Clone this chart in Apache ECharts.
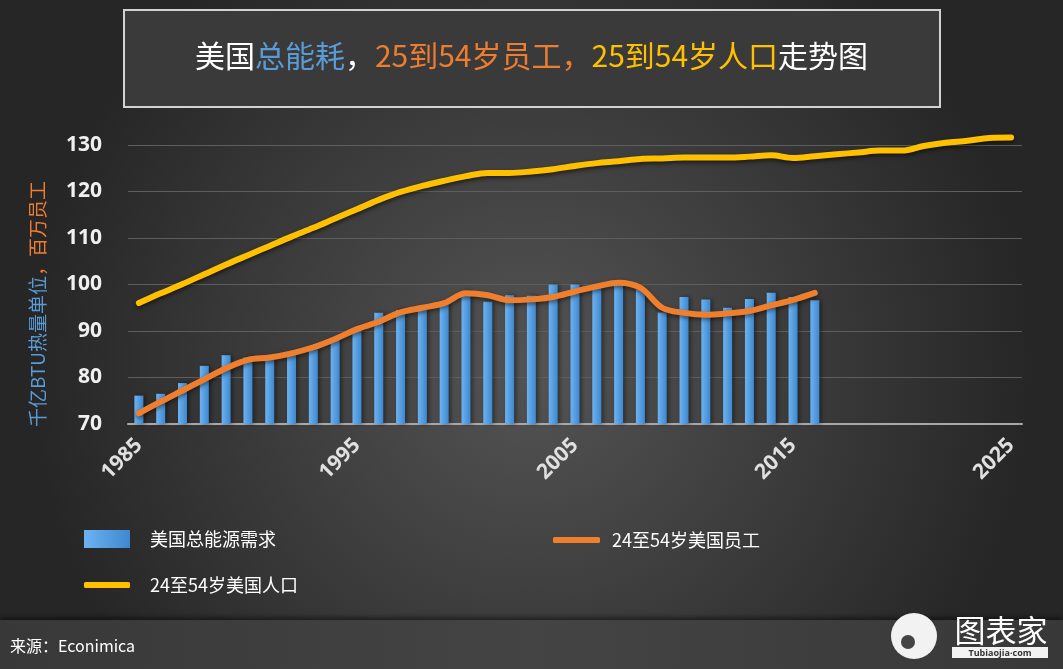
<!DOCTYPE html>
<html>
<head>
<meta charset="utf-8">
<script src="https://cdn.jsdelivr.net/npm/echarts@6/dist/echarts.min.js"></script>
<style>
html,body{margin:0;padding:0;background:#2b2b2b;}
#chart{width:1063px;height:669px;}
</style>
</head>
<body>
<div id="chart"></div>
<script>
// Years on the category axis
var years = [];
for (var y = 1985; y <= 2025; y++) years.push(String(y));

// 美国总能源需求 (1985-2016), 千亿BTU
var energyDemand = [76.1, 76.5, 78.8, 82.5, 84.8, 84.3, 83.8, 85.0, 86.1, 88.1,
  90.6, 93.9, 94.5, 94.7, 95.9, 98.5, 96.3, 97.7, 97.6, 100.0,
  100.0, 99.5, 100.3, 99.0, 94.0, 97.3, 96.8, 95.0, 96.9, 98.2,
  97.3, 96.6];

// 24至54岁美国员工 (1985-2016), 百万
var workers = [72.3, 74.8, 77.2, 79.6, 82.0, 83.8, 84.3, 85.2, 86.5, 88.3,
  90.4, 92.0, 94.0, 95.0, 96.0, 98.1, 97.7, 96.6, 96.8, 97.3,
  98.5, 99.6, 100.4, 99.3, 95.0, 93.9, 93.5, 93.8, 94.3, 95.5,
  96.7, 98.2];

// 24至54岁美国人口 (1985-2025), 百万
var population = [96.0, 98.1, 100.1, 102.2, 104.3, 106.3, 108.3, 110.3, 112.2, 114.2,
  116.2, 118.2, 119.9, 121.2, 122.3, 123.3, 124.0, 124.0, 124.3, 124.8,
  125.5, 126.1, 126.5, 127.0, 127.1, 127.3, 127.3, 127.3, 127.5, 127.8,
  127.2, 127.6, 128.0, 128.4, 128.8, 128.8, 129.8, 130.5, 130.9, 131.5,
  131.6];

var seriesNames = ['美国总能源需求', '24至54岁美国员工', '24至54岁美国人口'];
var yTicks = { min: 70, max: 130, interval: 10 };

var CJK = '"Noto Sans CJK SC", "Microsoft YaHei", sans-serif';
var NUM = '"Open Sans", "Noto Sans", sans-serif';

var chart = echarts.init(document.getElementById('chart'));
var titleStyle = function (c) { return { color: c, fontSize: 30, fontWeight: 'normal', fontFamily: CJK }; };
var option = {
  backgroundColor: {
    type: 'radial', x: 0.5, y: 0.55, r: 0.75,
    colorStops: [{ offset: 0, color: '#545454' }, { offset: 1, color: '#262626' }]
  },
  animation: false,
  title: {
    left: 'center', top: 36,
    text: '{w|美国}{b|总能耗}{w|，}{o|25到54岁员工，}{y|25到54岁人口}{w|走势图}',
    textStyle: {
      fontWeight: 'normal',
      rich: {
        w: titleStyle('#ffffff'),
        b: titleStyle('#5b9bd5'),
        o: titleStyle('#ed7d31'),
        y: titleStyle('#ffc000')
      }
    }
  },
  graphic: [
    {
      type: 'rect', z: -1,
      shape: { x: 124, y: 10, width: 816, height: 97 },
      style: { fill: '#3a3a3a', stroke: '#d2d2d2', lineWidth: 2 }
    },
    {
      type: 'rect', z: -1,
      shape: { x: 0, y: 620, width: 1063, height: 49 },
      style: {
        fill: {
          type: 'linear', x: 0, y: 0, x2: 1, y2: 0,
          colorStops: [{ offset: 0, color: '#383838' }, { offset: 0.5, color: '#444444' }, { offset: 1, color: '#383838' }]
        },
        shadowColor: 'rgba(0,0,0,0.6)', shadowBlur: 6, shadowOffsetY: -2
      }
    },
    {
      type: 'text', x: 10, y: 646,
      style: { text: '来源：Econimica', fill: '#ffffff', font: '16px ' + CJK, verticalAlign: 'middle', align: 'left' }
    },
    {
      type: 'text', x: 38, y: 304, rotation: Math.PI / 2,
      style: {
        text: '{b|千亿BTU热量单位}{o|，百万员工}',
        align: 'center', verticalAlign: 'middle',
        rich: {
          b: { fill: '#5b9bd5', fontSize: 19, fontFamily: CJK },
          o: { fill: '#ed7d31', fontSize: 19, fontFamily: CJK }
        }
      }
    },
    // logo
    {
      type: 'circle', shape: { cx: 914, cy: 636, r: 23 },
      style: { fill: '#f2f2f2' }
    },
    {
      type: 'circle', shape: { cx: 908, cy: 642, r: 8 },
      style: { fill: '#444', stroke: '#f2f2f2', lineWidth: 2 }
    },
    {
      type: 'text', x: 1001, y: 630,
      style: { text: '图表家', fill: '#ffffff', font: '31px ' + CJK, align: 'center', verticalAlign: 'middle' }
    },
    {
      type: 'rect', shape: { x: 952, y: 647, width: 96, height: 11 },
      style: { fill: '#f2f2f2' }
    },
    {
      type: 'text', x: 1000, y: 653,
      style: { text: 'Tubiaojia·com', fill: '#333', font: 'bold 9px ' + NUM, align: 'center', verticalAlign: 'middle' }
    }
  ],
  legend: [
    {
      data: [seriesNames[0]], left: 79, top: 525, icon: 'rect',
      itemWidth: 46, itemHeight: 18,
      textStyle: { color: '#ffffff', fontSize: 18, fontFamily: CJK, padding: [0, 0, 0, 15] }
    },
    {
      data: [seriesNames[1]], left: 548, top: 526, icon: 'roundRect',
      itemWidth: 47, itemHeight: 6,
      textStyle: { color: '#ffffff', fontSize: 18, fontFamily: CJK, padding: [0, 0, 0, 7] }
    },
    {
      data: [seriesNames[2]], left: 79, top: 571, icon: 'roundRect',
      itemWidth: 46, itemHeight: 6,
      textStyle: { color: '#ffffff', fontSize: 18, fontFamily: CJK, padding: [0, 0, 0, 15] }
    }
  ],
  grid: { left: 128, right: 41, top: 145, bottom: 245, containLabel: false },
  xAxis: {
    type: 'category', data: years, boundaryGap: true,
    axisLine: { show: true, lineStyle: { color: '#a8a8a8', width: 2 } },
    axisTick: { show: false },
    axisLabel: {
      interval: function (i) { return i % 10 === 0; },
      rotate: 45, margin: 18,
      color: '#e0e0e0', fontSize: 21, fontWeight: 'bold', fontFamily: NUM
    },
    splitLine: { show: false }
  },
  yAxis: {
    type: 'value', min: yTicks.min, max: yTicks.max, interval: yTicks.interval,
    axisLine: { show: false }, axisTick: { show: false },
    axisLabel: { color: '#f0f0f0', fontSize: 21, fontWeight: 'bold', fontFamily: NUM, margin: 26 },
    splitLine: { lineStyle: { color: '#5e5e5e', width: 1 } }
  },
  series: [
    {
      name: seriesNames[0], type: 'bar', data: energyDemand, barWidth: 9,
      itemStyle: {
        color: {
          type: 'linear', x: 0, y: 0, x2: 1, y2: 0,
          colorStops: [{ offset: 0, color: '#6db3f2' }, { offset: 1, color: '#3f88cf' }]
        },
        shadowColor: 'rgba(0,0,0,0.45)', shadowBlur: 4, shadowOffsetX: 2
      },
      z: 2
    },
    {
      name: seriesNames[1], type: 'line', data: workers, smooth: 0.35,
      showSymbol: false, symbol: 'none', clip: false,
      lineStyle: { color: '#f07f2d', width: 6, cap: 'round', shadowColor: 'rgba(0,0,0,0.5)', shadowBlur: 4, shadowOffsetY: 2 },
      itemStyle: { color: '#f07f2d' },
      z: 3
    },
    {
      name: seriesNames[2], type: 'line', data: population, smooth: 0.35,
      showSymbol: false, symbol: 'none', clip: false,
      lineStyle: { color: '#ffc000', width: 6, cap: 'round', shadowColor: 'rgba(0,0,0,0.6)', shadowBlur: 4, shadowOffsetY: 2 },
      itemStyle: { color: '#ffc000' },
      z: 3
    }
  ]
};
chart.setOption(option);
</script>
</body>
</html>
